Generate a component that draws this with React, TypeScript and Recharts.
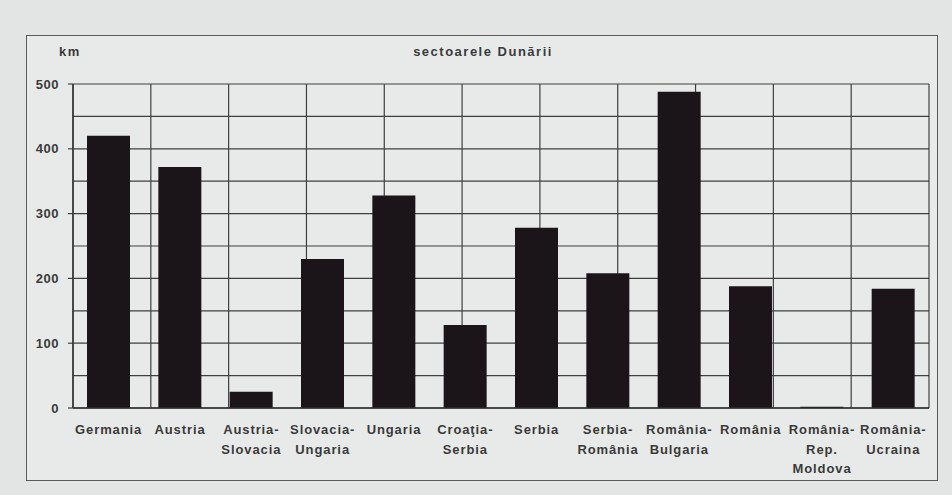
import React from 'react';
import { BarChart, Bar, XAxis, YAxis, CartesianGrid } from 'recharts';

// Danube sectors, length in km
const sectors = [
	'Germania',
	'Austria',
	'Austria-\nSlovacia',
	'Slovacia-\nUngaria',
	'Ungaria',
	'Croaţia-\nSerbia',
	'Serbia',
	'Serbia-\nRomânia',
	'România-\nBulgaria',
	'România',
	'România-\nRep.\nMoldova',
	'România-\nUcraina',
];
const lengths = [420, 372, 25, 230, 328, 128, 278, 208, 488, 188, 2, 184];
const yTicks = [0, 100, 200, 300, 400, 500];
const gridValues = [0, 50, 100, 150, 200, 250, 300, 350, 400, 450, 500];
const edgeTicks = [0, 1, 2, 3, 4, 5, 6, 7, 8, 9, 10, 11, 12];

const data = sectors.map((name, i) => ({ name, km: lengths[i] }));

const FONT = '"Liberation Sans", Arial, sans-serif';
const TEXT = '#3a3a3a';

const SectorTick = (props: any) => {
	const { x, y, payload } = props;
	const lines = String(payload.value).split('\n');
	return (
		<text x={x} y={y + 18} textAnchor="middle" fill={TEXT} fontFamily={FONT} fontSize={13} fontWeight="bold" letterSpacing={0.9}>
			{lines.map((l, i) => (
				<tspan key={i} x={x} dy={i === 0 ? 0 : 19.5}>{l}</tspan>
			))}
		</text>
	);
};

export default function App() {
	return (
		<div style={{ position: 'absolute', left: 0, top: 0, width: 952, height: 495, background: '#e3e5e4' }}>
			<div style={{ position: 'absolute', left: 26, top: 35, width: 910, height: 444, border: '1px solid #5a5a5a', background: '#e8eae9' }}>
				<div style={{ position: 'absolute', left: 32, top: 8, fontFamily: FONT, fontSize: 13, fontWeight: 'bold', color: TEXT, letterSpacing: 1.5 }}>km</div>
				<div style={{ position: 'absolute', left: 0, width: 912, top: 8, textAlign: 'center', fontFamily: FONT, fontSize: 13, fontWeight: 'bold', color: TEXT, letterSpacing: 1.5 }}>sectoarele Dunării</div>
				<BarChart width={910} height={444} data={data} margin={{ top: 48, right: 8, left: 6, bottom: 12 }}>
					<CartesianGrid
						xAxisId="edge"
						stroke="#3f3f3f"
						strokeWidth={1.2}
						horizontalCoordinatesGenerator={({ offset }: any) =>
							gridValues.map((v) => offset.top + offset.height * (1 - v / 500))
						}
					/>
					<XAxis
						xAxisId="edge"
						type="number"
						domain={[0, 12]}
						ticks={edgeTicks}
						height={0}
						axisLine={false}
						tickSize={5}
						tickLine={{ stroke: '#3f3f3f', strokeWidth: 1.2 }}
						tickFormatter={() => ''}
					/>
					<XAxis
						xAxisId="cat"
						dataKey="name"
						interval={0}
						height={60}
						tickLine={false}
						axisLine={{ stroke: '#2f2f2f', strokeWidth: 1.4 }}
						tick={<SectorTick />}
					/>
					<YAxis
						domain={[0, 500]}
						ticks={yTicks}
						width={40}
						tickSize={5}
						tickMargin={9}
						axisLine={{ stroke: '#2f2f2f', strokeWidth: 1.4 }}
						tickLine={{ stroke: '#3f3f3f', strokeWidth: 1.2 }}
						tick={{ fill: TEXT, fontFamily: FONT, fontSize: 13, fontWeight: 'bold', letterSpacing: 0.5 }}
					/>
					<Bar xAxisId="cat" dataKey="km" fill="#1b1519" barSize={43} isAnimationActive={false} />
				</BarChart>
			</div>
		</div>
	);
}
